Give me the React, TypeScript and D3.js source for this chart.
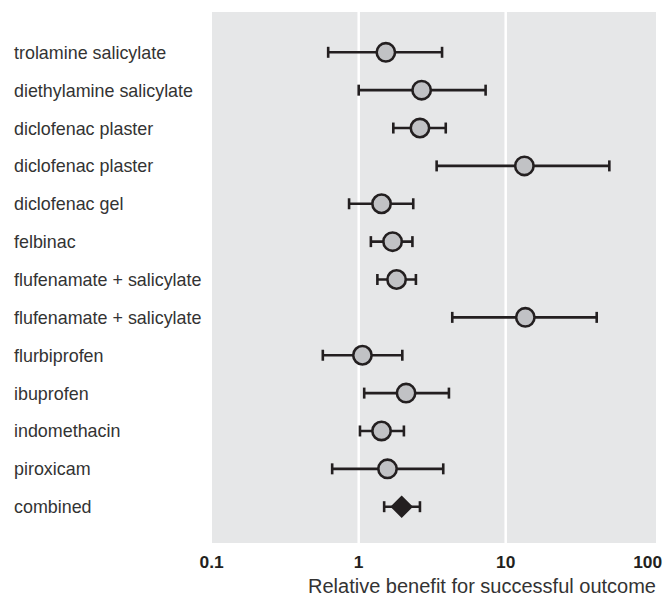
import React from 'react';
import { scaleLog, scalePoint } from 'd3';

const WIDTH = 665;
const HEIGHT = 602;

const treatments = [
  'trolamine salicylate',
  'diethylamine salicylate',
  'diclofenac plaster',
  'diclofenac plaster',
  'diclofenac gel',
  'felbinac',
  'flufenamate + salicylate',
  'flufenamate + salicylate',
  'flurbiprofen',
  'ibuprofen',
  'indomethacin',
  'piroxicam',
  'combined'
];
const estimates = [1.53, 2.68, 2.61, 13.4, 1.43, 1.70, 1.81, 13.6, 1.06, 2.10, 1.43, 1.57, 1.96];
const lowerCI = [0.62, 1.0, 1.72, 3.39, 0.86, 1.21, 1.34, 4.33, 0.57, 1.09, 1.02, 0.66, 1.49];
const upperCI = [3.69, 7.3, 3.91, 50.7, 2.35, 2.32, 2.45, 41.6, 1.98, 4.11, 2.03, 3.76, 2.61];
const tickValues = [0.1, 1, 10, 100];
const tickLabels = ['0.1', '1', '10', '100'];
const gridValues = [1, 10];

const PANEL_LEFT = 212;
const PANEL_RIGHT = 656;
const PANEL_TOP = 12;
const PANEL_BOTTOM = 543;
const INK = '#231f20';
const FONT = "'Liberation Sans', Arial, sans-serif";

export default function App() {
  const x = scaleLog().domain([0.1, 100]).range([211.7, 652.7]);
  const rows = treatments.map((_, i) => String(i));
  const y = scalePoint<string>().domain(rows).range([52.3, 506.7]);
  const last = treatments.length - 1;

  return (
    <svg width={WIDTH} height={HEIGHT} style={{ display: 'block', position: 'absolute', left: 0, top: 0 }}>
      <rect x={0} y={0} width={WIDTH} height={HEIGHT} fill="#ffffff" />
      <rect
        x={PANEL_LEFT}
        y={PANEL_TOP}
        width={PANEL_RIGHT - PANEL_LEFT}
        height={PANEL_BOTTOM - PANEL_TOP}
        fill="#e6e7e8"
      />
      {gridValues.map(v => (
        <line key={v} x1={x(v)} x2={x(v)} y1={PANEL_TOP} y2={PANEL_BOTTOM} stroke="#ffffff" strokeWidth={2.5} />
      ))}

      {/* row labels */}
      {treatments.map((t, i) => (
        <text
          key={'l' + i}
          x={14}
          y={y(String(i))! + 6.5}
          fontFamily={FONT}
          fontSize={17.9}
          fill="#333333"
        >
          {t}
        </text>
      ))}

      {/* confidence intervals */}
      {treatments.map((_, i) => {
        const cy = y(String(i))!;
        const x0 = x(lowerCI[i]);
        const x1 = x(upperCI[i]);
        return (
          <g key={'ci' + i} stroke={INK} strokeWidth={2.6}>
            <line x1={x0} x2={x1} y1={cy} y2={cy} />
            <line x1={x0} x2={x0} y1={cy - 5.5} y2={cy + 5.5} />
            <line x1={x1} x2={x1} y1={cy - 5.5} y2={cy + 5.5} />
          </g>
        );
      })}

      {/* point estimates */}
      {treatments.map((_, i) => {
        const cx = x(estimates[i]);
        const cy = y(String(i))!;
        if (i === last) {
          const r = 11.3;
          return (
            <path
              key={'p' + i}
              d={`M${cx - r},${cy}L${cx},${cy - r}L${cx + r},${cy}L${cx},${cy + r}Z`}
              fill={INK}
            />
          );
        }
        return (
          <circle key={'p' + i} cx={cx} cy={cy} r={9.2} fill="#c1c2c5" stroke={INK} strokeWidth={2.6} />
        );
      })}

      {/* axis */}
      {tickValues.map((v, i) => (
        <text
          key={'t' + v}
          x={x(v) - (i === tickValues.length - 1 ? 5 : 0)}
          y={568}
          textAnchor="middle"
          fontFamily={FONT}
          fontSize={17.4}
          fontWeight="bold"
          fill={INK}
        >
          {tickLabels[i]}
        </text>
      ))}
      <text
        x={PANEL_RIGHT}
        y={593}
        textAnchor="end"
        fontFamily={FONT}
        fontSize={20}
        fill="#333333"
      >
        Relative benefit for successful outcome
      </text>
    </svg>
  );
}
